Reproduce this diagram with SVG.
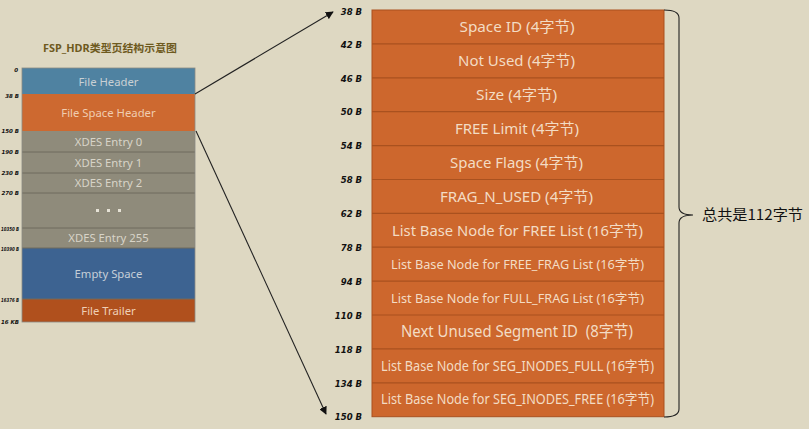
<svg xmlns="http://www.w3.org/2000/svg" width="809" height="429" viewBox="0 0 809 429">
<style>
.bg{fill:#ded8c2}
.lt{font-family:"Noto Sans","Noto Sans CJK SC",sans-serif;font-size:11.3px;text-anchor:middle}
.rt{font-family:"Noto Sans","Noto Sans CJK SC",sans-serif;fill:#f3dcc4;text-anchor:middle}
.off{font-family:"DejaVu Sans",sans-serif;font-weight:bold;font-style:italic;fill:#111;text-anchor:end}
.row{fill:#cd672d}
.div{stroke:#a9511f;stroke-width:1.2}
.ldiv{stroke:#6f6b5e;stroke-width:1}
.conn{stroke:#222;stroke-width:1.1;fill:none}
</style>
<defs>
<marker id="ah" viewBox="0 0 10 10" refX="9" refY="5" markerWidth="8" markerHeight="8" markerUnits="userSpaceOnUse" orient="auto">
<path d="M0,0 L10,5 L0,10 z" fill="#111"/>
</marker>
</defs>
<rect class="bg" x="0" y="0" width="809" height="429"/>

<text x="110" y="52" style="font-family:'Noto Sans','Noto Sans CJK SC',sans-serif;font-weight:bold;font-size:10.5px;fill:#6e5a1e;text-anchor:middle" textLength="134" lengthAdjust="spacingAndGlyphs">FSP_HDR类型页结构示意图</text>

<g id="left-page">
<g id="file-header"><rect x="22" y="68" width="173" height="26" fill="#4f82a1"/><text class="lt" x="108.5" y="85.5" fill="#c9d0d4">File Header</text></g>
<g id="file-space-header"><rect x="22" y="94" width="173" height="37" fill="#cd6930"/><text class="lt" x="108.5" y="117" fill="#f0cdb0">File Space Header</text></g>
<g id="xdes-0"><rect x="22" y="131" width="173" height="21" fill="#8f8b7b"/><text class="lt" x="108.5" y="145.5" fill="#d8d4c8">XDES Entry 0</text></g>
<g id="xdes-1"><rect x="22" y="152" width="173" height="21" fill="#8f8b7b"/><text class="lt" x="108.5" y="166.5" fill="#d8d4c8">XDES Entry 1</text></g>
<g id="xdes-2"><rect x="22" y="173" width="173" height="20" fill="#8f8b7b"/><text class="lt" x="108.5" y="187" fill="#d8d4c8">XDES Entry 2</text></g>
<g id="xdes-dots"><rect x="22" y="193" width="173" height="35" fill="#8f8b7b"/>
<rect x="96" y="209" width="3" height="3" fill="#e6e2d6"/><rect x="107" y="209" width="3" height="3" fill="#e6e2d6"/><rect x="118" y="209" width="3" height="3" fill="#e6e2d6"/></g>
<g id="xdes-255"><rect x="22" y="228" width="173" height="20" fill="#8f8b7b"/><text class="lt" x="108.5" y="242" fill="#d8d4c8">XDES Entry 255</text></g>
<g id="empty-space"><rect x="22" y="248" width="173" height="51" fill="#3d6391"/><text class="lt" x="108.5" y="278" fill="#c6cfd8">Empty Space</text></g>
<g id="file-trailer"><rect x="22" y="299" width="173" height="23" fill="#b0501d"/><text class="lt" x="108.5" y="315" fill="#efcfb6">File Trailer</text></g>
<line class="ldiv" x1="22" y1="152" x2="195" y2="152"/>
<line class="ldiv" x1="22" y1="173" x2="195" y2="173"/>
<line class="ldiv" x1="22" y1="193" x2="195" y2="193"/>
<line class="ldiv" x1="22" y1="228" x2="195" y2="228"/>
<line class="ldiv" x1="22" y1="248" x2="195" y2="248"/>
<line class="ldiv" x1="22" y1="299" x2="195" y2="299"/>
<rect x="22" y="68" width="173" height="254" fill="none" stroke="#8a8a84" stroke-width="0.8"/>
</g>

<g id="left-offsets" style="font-size:5.5px">
<text class="off" x="18" y="72">0</text>
<text class="off" x="19" y="98">38 B</text>
<text class="off" x="19" y="133">150 B</text>
<text class="off" x="19" y="154">190 B</text>
<text class="off" x="19" y="175">230 B</text>
<text class="off" x="19" y="195">270 B</text>
<text class="off" x="19" y="231" textLength="18" lengthAdjust="spacingAndGlyphs">10350 B</text>
<text class="off" x="19" y="251" textLength="18" lengthAdjust="spacingAndGlyphs">10390 B</text>
<text class="off" x="19" y="302" textLength="18" lengthAdjust="spacingAndGlyphs">16376 B</text>
<text class="off" x="19" y="324">16 KB</text>
</g>

<g id="fsh-detail">
<rect class="row" x="372" y="10" width="292" height="406.7"/>
<line class="div" x1="372" y1="43.9" x2="664" y2="43.9"/>
<line class="div" x1="372" y1="77.8" x2="664" y2="77.8"/>
<line class="div" x1="372" y1="111.7" x2="664" y2="111.7"/>
<line class="div" x1="372" y1="145.6" x2="664" y2="145.6"/>
<line class="div" x1="372" y1="179.5" x2="664" y2="179.5"/>
<line class="div" x1="372" y1="213.3" x2="664" y2="213.3"/>
<line class="div" x1="372" y1="247.2" x2="664" y2="247.2"/>
<line class="div" x1="372" y1="281.1" x2="664" y2="281.1"/>
<line class="div" x1="372" y1="315" x2="664" y2="315"/>
<line class="div" x1="372" y1="348.9" x2="664" y2="348.9"/>
<line class="div" x1="372" y1="382.8" x2="664" y2="382.8"/>
<rect x="372" y="10" width="292" height="406.7" fill="none" stroke="#a9511f" stroke-width="1"/>
</g>

<g id="fsh-fields">
<g id="f-space-id"><text class="rt" x="517" y="32" style="font-size:15px" textLength="115" lengthAdjust="spacingAndGlyphs">Space ID (4字节)</text></g>
<g id="f-not-used"><text class="rt" x="516.5" y="66" style="font-size:15px" textLength="117" lengthAdjust="spacingAndGlyphs">Not Used (4字节)</text></g>
<g id="f-size"><text class="rt" x="516.5" y="100" style="font-size:15px" textLength="81" lengthAdjust="spacingAndGlyphs">Size (4字节)</text></g>
<g id="f-free-limit"><text class="rt" x="517" y="134" style="font-size:15px">FREE Limit (4字节)</text></g>
<g id="f-space-flags"><text class="rt" x="516.5" y="167.5" style="font-size:15px" textLength="133" lengthAdjust="spacingAndGlyphs">Space Flags (4字节)</text></g>
<g id="f-frag-n-used"><text class="rt" x="516.5" y="201.5" style="font-size:15px" textLength="153" lengthAdjust="spacingAndGlyphs">FRAG_N_USED (4字节)</text></g>
<g id="f-free-list"><text class="rt" x="517.5" y="235.5" style="font-size:15px" textLength="251" lengthAdjust="spacingAndGlyphs">List Base Node for FREE List (16字节)</text></g>
<g id="f-free-frag"><text class="rt" x="517.5" y="268.5" style="font-size:13px" textLength="253" lengthAdjust="spacingAndGlyphs">List Base Node for FREE_FRAG List (16字节)</text></g>
<g id="f-full-frag"><text class="rt" x="517.5" y="302.5" style="font-size:13px" textLength="253" lengthAdjust="spacingAndGlyphs">List Base Node for FULL_FRAG List (16字节)</text></g>
<g id="f-next-seg"><text class="rt" x="517" y="337" style="font-size:16px;white-space:pre" textLength="232" lengthAdjust="spacingAndGlyphs">Next Unused Segment ID  (8字节)</text></g>
<g id="f-seg-full"><text class="rt" x="517.5" y="370.5" style="font-size:13.5px" textLength="273" lengthAdjust="spacingAndGlyphs">List Base Node for SEG_INODES_FULL (16字节)</text></g>
<g id="f-seg-free"><text class="rt" x="517.5" y="404" style="font-size:13.5px" textLength="273" lengthAdjust="spacingAndGlyphs">List Base Node for SEG_INODES_FREE (16字节)</text></g>
</g>

<g id="right-offsets" style="font-size:8.5px">
<text class="off" x="362" y="15">38 B</text>
<text class="off" x="362" y="47.5">42 B</text>
<text class="off" x="362" y="82">46 B</text>
<text class="off" x="362" y="115">50 B</text>
<text class="off" x="362" y="149">54 B</text>
<text class="off" x="362" y="183">58 B</text>
<text class="off" x="362" y="217">62 B</text>
<text class="off" x="362" y="251">78 B</text>
<text class="off" x="362" y="285">94 B</text>
<text class="off" x="362" y="318.5">110 B</text>
<text class="off" x="362" y="352.5">118 B</text>
<text class="off" x="362" y="386.5">134 B</text>
<text class="off" x="362" y="420">150 B</text>
</g>

<g id="connectors">
<line class="conn" x1="195" y1="94" x2="333" y2="12" marker-end="url(#ah)"/>
<line class="conn" x1="196" y1="131" x2="326" y2="414" marker-end="url(#ah)"/>
<path class="conn" d="M664,10 Q679,10 679,18 L679,207 Q679,215 693,215 Q679,215 679,223 L679,409 Q679,417 664,417"/>
</g>

<g id="total-label">
<text x="702" y="220" style="font-family:'Noto Sans CJK SC',sans-serif;font-size:14.5px;fill:#111" textLength="101" lengthAdjust="spacingAndGlyphs">总共是112字节</text>
</g>
</svg>
